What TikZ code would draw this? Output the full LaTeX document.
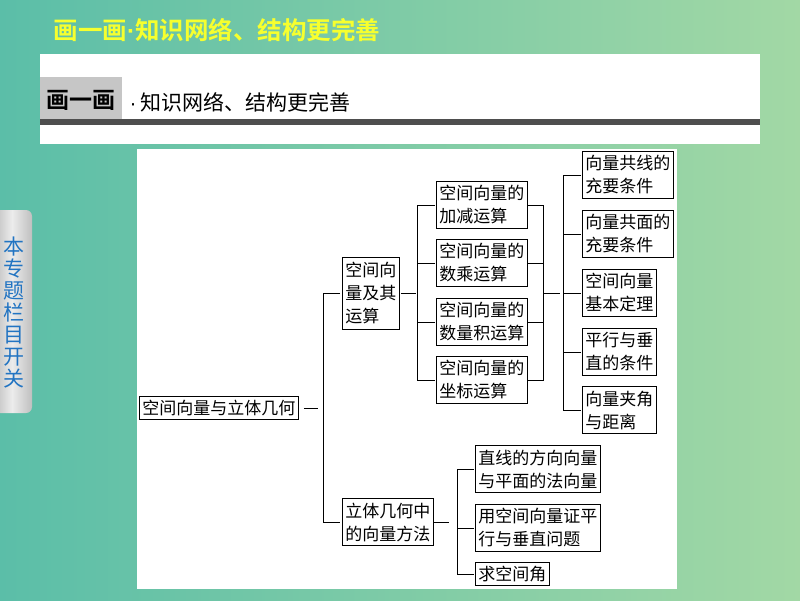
\documentclass[tikz,border=0pt]{standalone}
\usepackage{fontspec}
\newfontfamily\cjk[BoldFont={* Bold}]{Noto Sans CJK SC}
\newfontfamily\latindot{Liberation Sans}
\newcommand\middot{{\latindot ·}}
\definecolor{bgleft}{HTML}{5BBEA8}
\definecolor{bgright}{HTML}{A2D8A5}
\definecolor{titleyellow}{HTML}{F6FF2E}
\definecolor{tabblue}{HTML}{2274C2}
\definecolor{barline}{HTML}{4E4E4E}
\tikzset{
  box/.style={draw, line width=0.8pt, fill=white, anchor=west, align=left,
    inner xsep=3pt, inner ysep=0pt, minimum height=23pt,
    font=\cjk\fontsize{17}{23}\selectfont},
  twoline/.style={box, minimum height=47pt},
  threeline/.style={box, minimum height=72pt},
  link/.style={line width=0.8pt}
}
\begin{document}
\begin{tikzpicture}[x=1pt,y=-1pt]
      \useasboundingbox (0,0) rectangle (800,600);
      \shade[left color=bgleft, right color=bgright] (0,0) rectangle (800,600);
      \draw
        (50,30) node[anchor=west, text=titleyellow, font=\cjk\bfseries\fontsize{24.5}{24.5}\selectfont] (title){画一画\middot 知识网络、结构更完善};
      \fill[white] (40,54) rectangle (760,144);
      \fill[gray!45] (40,77) rectangle (122,120);
      \fill[barline] (40,119) rectangle (760,125);
      \draw
        (81,100) node[font=\cjk\bfseries\fontsize{23}{23}\selectfont] (tag){画一画}
        (126,102) node[anchor=west, font=\cjk\fontsize{21}{21}\selectfont] (subtitle){\middot\hspace{4pt}知识网络、结构更完善};
      \shade[left color=gray!55, right color=gray!50, middle color=gray!15, rounded corners=6pt]
        (-8,210) rectangle (32,413);
      \draw
        (14,313) node[text=tabblue, align=center, font=\cjk\fontsize{21}{22}\selectfont] (switch){本\\专\\题\\栏\\目\\开\\关};
      \fill[white] (137,149) rectangle (677,589);
      \draw
        (139,408) node[box] (root){空间向量与立体几何}
        (342,293) node[threeline] (ops){空间向\\量及其\\运算}
        (342,522) node[twoline] (geo){立体几何中\\的向量方法}
        (436,205) node[twoline] (add){空间向量的\\加减运算}
        (436,263) node[twoline] (scal){空间向量的\\数乘运算}
        (436,322) node[twoline] (dot){空间向量的\\数量积运算}
        (436,380) node[twoline] (coord){空间向量的\\坐标运算}
        (582,175) node[twoline] (colin){向量共线的\\充要条件}
        (582,234) node[twoline] (copl){向量共面的\\充要条件}
        (582,293) node[twoline] (basis){空间向量\\基本定理}
        (582,352) node[twoline] (parperp){平行与垂\\直的条件}
        (582,410) node[twoline] (angle){向量夹角\\与距离}
        (475,469) node[twoline] (dirnorm){直线的方向向量\\与平面的法向量}
        (475,528) node[twoline] (proof){用空间向量证平\\行与垂直问题}
        (475,574) node[box] (spangle){求空间角};
      \coordinate (rootend) at (318,408);
      \coordinate (opsmid) at (544,293);
      \begin{scope}[link]
        \draw ([xshift=5pt]root.east) to (rootend);
        \draw ([xshift=-2pt]ops.west) -- ++(-17,0) |- ([xshift=-2pt]geo.west);
        \draw ([xshift=1pt]ops.east) -- ++(15,0);
        \draw ([xshift=-1pt]add.west) -- ++(-18,0) |- ([xshift=-1pt]coord.west);
        \draw ([xshift=-1pt]scal.west) -- ++(-18,0);
        \draw ([xshift=-1pt]dot.west) -- ++(-18,0);
        \draw (add.east) -- ++(16,0) |- (coord.east);
        \draw (scal.east) -- ++(16,0);
        \draw (dot.east) -- ++(16,0);
        \draw (opsmid) -- ++(16,0);
        \draw ([xshift=-1pt]colin.west) -- ++(-18,0) |- ([xshift=-1pt]angle.west);
        \draw ([xshift=-1pt]copl.west) -- ++(-18,0);
        \draw ([xshift=-1pt]basis.west) -- ++(-18,0);
        \draw ([xshift=-1pt]parperp.west) -- ++(-18,0);
        \draw (geo.east) -- ++(15,0);
        \draw ([xshift=-1pt]dirnorm.west) -- ++(-17,0) |- ([xshift=-1pt]spangle.west);
        \draw ([xshift=-1pt]proof.west) -- ++(-17,0);
      \end{scope}
    \end{tikzpicture}
\end{document}
